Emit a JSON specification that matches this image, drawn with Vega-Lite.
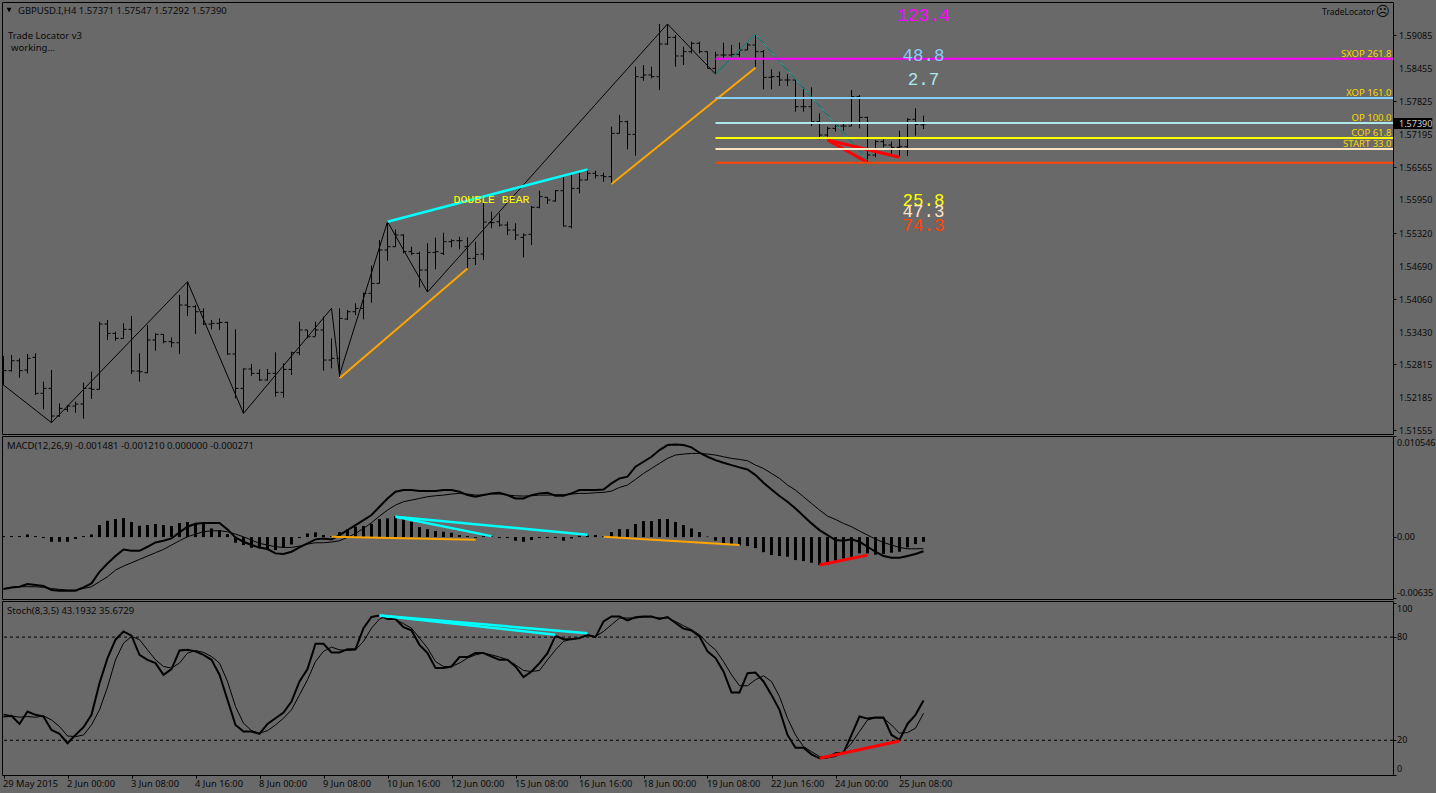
{
"$schema":"https://vega.github.io/schema/vega-lite/v6.json",
"background":"#696969",
"padding":{"left":-1,"top":1,"right":8,"bottom":5},
"spacing":2,
"bounds":"flush",
"config":{"view":{"stroke":"#000","strokeWidth":1},"axis":{"grid":false,"domain":false,"title":null,"labelFont":"Noto Sans","labelFontSize":9,"labelColor":"#0a0a0a","tickColor":"#000","tickSize":3}},
"datasets":{
"bars":[
{"bar":0,"open":1.52762,"high":1.52965,"low":1.52413,"close":1.52686,"macd":-0.00543,"signal":-0.00536,"hist":0.0001,"k":33.8,"d":35.2},
{"bar":1,"open":1.52686,"high":1.52984,"low":1.52667,"close":1.52876,"macd":-0.00525,"signal":-0.00525,"hist":0.0001,"k":34.2,"d":34.2},
{"bar":2,"open":1.52876,"high":1.52921,"low":1.52552,"close":1.52686,"macd":-0.00518,"signal":-0.00518,"hist":0.0001,"k":29.5,"d":33.4},
{"bar":3,"open":1.52698,"high":1.53004,"low":1.52635,"close":1.52921,"macd":-0.0049,"signal":-0.00518,"hist":0.00028,"k":36.7,"d":33.8},
{"bar":4,"open":1.5294,"high":1.53016,"low":1.52222,"close":1.52254,"macd":-0.00501,"signal":-0.00518,"hist":0.0001,"k":34.8,"d":33.4},
{"bar":5,"open":1.52254,"high":1.52476,"low":1.51949,"close":1.52349,"macd":-0.00511,"signal":-0.00525,"hist":-0.0001,"k":33.8,"d":34.2},
{"bar":6,"open":1.52349,"high":1.52698,"low":1.51695,"close":1.51822,"macd":-0.00553,"signal":-0.00536,"hist":-0.00049,"k":26.0,"d":31.8},
{"bar":7,"open":1.51822,"high":1.52063,"low":1.51809,"close":1.51968,"macd":-0.0056,"signal":-0.00546,"hist":-0.00049,"k":23.7,"d":28.0},
{"bar":8,"open":1.51949,"high":1.52031,"low":1.51904,"close":1.52012,"macd":-0.0056,"signal":-0.00553,"hist":-0.00049,"k":18.3,"d":22.5},
{"bar":9,"open":1.52012,"high":1.52095,"low":1.51885,"close":1.5205,"macd":-0.0056,"signal":-0.00553,"hist":-0.0002,"k":23.1,"d":22.1},
{"bar":10,"open":1.5205,"high":1.52457,"low":1.51771,"close":1.52349,"macd":-0.00525,"signal":-0.00536,"hist":0.0001,"k":27.6,"d":23.1},
{"bar":11,"open":1.52349,"high":1.52667,"low":1.52146,"close":1.5233,"macd":-0.00483,"signal":-0.00518,"hist":0.00028,"k":34.8,"d":28.9},
{"bar":12,"open":1.5233,"high":1.5362,"low":1.5233,"close":1.53575,"macd":-0.00362,"signal":-0.00466,"hist":0.00125,"k":53.2,"d":37.7},
{"bar":13,"open":1.53575,"high":1.53652,"low":1.5327,"close":1.53397,"macd":-0.00275,"signal":-0.00414,"hist":0.0017,"k":67.8,"d":50.9},
{"bar":14,"open":1.53397,"high":1.53429,"low":1.53258,"close":1.53302,"macd":-0.00198,"signal":-0.00344,"hist":0.00188,"k":78.5,"d":66.8},
{"bar":15,"open":1.53302,"high":1.53588,"low":1.53302,"close":1.53474,"macd":-0.00129,"signal":-0.00303,"hist":0.00198,"k":83.3,"d":76.5},
{"bar":16,"open":1.53474,"high":1.53728,"low":1.52622,"close":1.52679,"macd":-0.00143,"signal":-0.00268,"hist":0.00157,"k":80.8,"d":80.4},
{"bar":17,"open":1.52679,"high":1.53016,"low":1.52476,"close":1.52667,"macd":-0.00143,"signal":-0.00233,"hist":0.00118,"k":69.7,"d":78.5},
{"bar":18,"open":1.52648,"high":1.53556,"low":1.52635,"close":1.5327,"macd":-0.00101,"signal":-0.00198,"hist":0.00125,"k":66.8,"d":72.6},
{"bar":19,"open":1.5327,"high":1.53397,"low":1.53067,"close":1.53378,"macd":-0.00056,"signal":-0.00163,"hist":0.00136,"k":64.9,"d":66.8},
{"bar":20,"open":1.53378,"high":1.53385,"low":1.53207,"close":1.53239,"macd":-0.00038,"signal":-0.00129,"hist":0.00125,"k":58.1,"d":62.9},
{"bar":21,"open":1.53239,"high":1.53321,"low":1.53131,"close":1.53219,"macd":-0.00014,"signal":-0.00083,"hist":0.00115,"k":61.4,"d":62.0},
{"bar":22,"open":1.53219,"high":1.54128,"low":1.53004,"close":1.53937,"macd":0.00049,"signal":-0.00038,"hist":0.00146,"k":72.2,"d":64.9},
{"bar":23,"open":1.53937,"high":1.54382,"low":1.53728,"close":1.53906,"macd":0.00108,"signal":0.00003,"hist":0.00157,"k":72.6,"d":70.7},
{"bar":24,"open":1.53906,"high":1.53937,"low":1.53385,"close":1.5381,"macd":0.00139,"signal":0.00031,"hist":0.00136,"k":71.7,"d":72.2},
{"bar":25,"open":1.5381,"high":1.53874,"low":1.53556,"close":1.53575,"macd":0.00146,"signal":0.00056,"hist":0.00136,"k":69.7,"d":71.1},
{"bar":26,"open":1.53575,"high":1.53652,"low":1.53474,"close":1.53588,"macd":0.00146,"signal":0.00066,"hist":0.0009,"k":66.8,"d":68.7},
{"bar":27,"open":1.53588,"high":1.53683,"low":1.53461,"close":1.53607,"macd":0.00146,"signal":0.00066,"hist":0.00073,"k":58.1,"d":64.9},
{"bar":28,"open":1.53607,"high":1.5362,"low":1.52984,"close":1.53004,"macd":0.0008,"signal":0.00056,"hist":0.00031,"k":43.5,"d":54.2},
{"bar":29,"open":1.53004,"high":1.53474,"low":1.52158,"close":1.52349,"macd":-0.00003,"signal":0.00031,"hist":-0.00059,"k":28.9,"d":39.6},
{"bar":30,"open":1.52349,"high":1.5273,"low":1.51872,"close":1.52718,"macd":-0.00049,"signal":0.00003,"hist":-0.00083,"k":25.1,"d":29.9},
{"bar":31,"open":1.52718,"high":1.52813,"low":1.5259,"close":1.52635,"macd":-0.00083,"signal":-0.00031,"hist":-0.00111,"k":25.1,"d":25.6},
{"bar":32,"open":1.52635,"high":1.52711,"low":1.52495,"close":1.52508,"macd":-0.00108,"signal":-0.00066,"hist":-0.00118,"k":23.7,"d":24.1},
{"bar":33,"open":1.52508,"high":1.52718,"low":1.52495,"close":1.52635,"macd":-0.00125,"signal":-0.00083,"hist":-0.00136,"k":29.5,"d":25.6},
{"bar":34,"open":1.52635,"high":1.53035,"low":1.5219,"close":1.52273,"macd":-0.0017,"signal":-0.00101,"hist":-0.00136,"k":32.8,"d":28.9},
{"bar":35,"open":1.52273,"high":1.52826,"low":1.52171,"close":1.52711,"macd":-0.00177,"signal":-0.00108,"hist":-0.00108,"k":36.1,"d":32.8},
{"bar":36,"open":1.52711,"high":1.53048,"low":1.52603,"close":1.53029,"macd":-0.00153,"signal":-0.00108,"hist":-0.00077,"k":42.5,"d":37.7},
{"bar":37,"open":1.53029,"high":1.5362,"low":1.52984,"close":1.53461,"macd":-0.00108,"signal":-0.00094,"hist":-0.0001,"k":54.2,"d":46.4},
{"bar":38,"open":1.53461,"high":1.53461,"low":1.53302,"close":1.53334,"macd":-0.00066,"signal":-0.00073,"hist":0.00038,"k":61.4,"d":55.2},
{"bar":39,"open":1.53334,"high":1.5362,"low":1.53347,"close":1.53461,"macd":-0.00024,"signal":-0.00059,"hist":0.00049,"k":76.1,"d":65.8},
{"bar":40,"open":1.53461,"high":1.53715,"low":1.52686,"close":1.52889,"macd":-0.00014,"signal":-0.00059,"hist":0.00021,"k":76.1,"d":71.7},
{"bar":41,"open":1.52889,"high":1.53302,"low":1.5273,"close":1.52921,"macd":-0.00024,"signal":-0.00052,"hist":0.0001,"k":71.1,"d":74.2},
{"bar":42,"open":1.52921,"high":1.53874,"low":1.5254,"close":1.53683,"macd":0.00021,"signal":-0.00038,"hist":0.00052,"k":71.1,"d":72.6},
{"bar":43,"open":1.53671,"high":1.53842,"low":1.53652,"close":1.5381,"macd":0.00073,"signal":-0.00003,"hist":0.0008,"k":73.0,"d":72.2},
{"bar":44,"open":1.5381,"high":1.53969,"low":1.53747,"close":1.53874,"macd":0.00125,"signal":0.00038,"hist":0.00108,"k":73.0,"d":72.6},
{"bar":45,"open":1.53874,"high":1.54173,"low":1.53664,"close":1.5416,"macd":0.00177,"signal":0.0009,"hist":0.00115,"k":85.2,"d":77.5},
{"bar":46,"open":1.5416,"high":1.54687,"low":1.53982,"close":1.5435,"macd":0.0023,"signal":0.0015,"hist":0.00139,"k":91.7,"d":85.2},
{"bar":47,"open":1.5435,"high":1.55177,"low":1.5435,"close":1.54986,"macd":0.00316,"signal":0.00219,"hist":0.00188,"k":92.6,"d":90.5},
{"bar":48,"open":1.54986,"high":1.55526,"low":1.54783,"close":1.55049,"macd":0.00403,"signal":0.00282,"hist":0.00195,"k":90.5,"d":92.4},
{"bar":49,"open":1.55049,"high":1.5538,"low":1.55049,"close":1.55272,"macd":0.00473,"signal":0.00334,"hist":0.00219,"k":90.5,"d":90.1},
{"bar":50,"open":1.55272,"high":1.55285,"low":1.54922,"close":1.54954,"macd":0.0049,"signal":0.00369,"hist":0.00195,"k":85.8,"d":87.8},
{"bar":51,"open":1.54954,"high":1.55049,"low":1.54891,"close":1.54922,"macd":0.0049,"signal":0.00386,"hist":0.0016,"k":83.9,"d":85.2},
{"bar":52,"open":1.54922,"high":1.54954,"low":1.54274,"close":1.54605,"macd":0.0048,"signal":0.00403,"hist":0.00104,"k":75.5,"d":79.4},
{"bar":53,"open":1.54605,"high":1.55113,"low":1.54185,"close":1.54941,"macd":0.0048,"signal":0.00421,"hist":0.00083,"k":70.7,"d":73.6},
{"bar":54,"open":1.54941,"high":1.55221,"low":1.54617,"close":1.54954,"macd":0.0048,"signal":0.00431,"hist":0.00063,"k":62.0,"d":65.8},
{"bar":55,"open":1.54922,"high":1.55316,"low":1.54891,"close":1.55145,"macd":0.0049,"signal":0.00438,"hist":0.00056,"k":62.0,"d":62.9},
{"bar":56,"open":1.55145,"high":1.55189,"low":1.55037,"close":1.55164,"macd":0.0049,"signal":0.00449,"hist":0.00045,"k":62.9,"d":62.9},
{"bar":57,"open":1.55164,"high":1.5524,"low":1.54999,"close":1.55164,"macd":0.00473,"signal":0.00456,"hist":0.00021,"k":68.4,"d":64.9},
{"bar":58,"open":1.55049,"high":1.55227,"low":1.54636,"close":1.54827,"macd":0.00438,"signal":0.00449,"hist":0.0001,"k":68.4,"d":67.8},
{"bar":59,"open":1.54827,"high":1.55145,"low":1.547,"close":1.54903,"macd":0.00421,"signal":0.00438,"hist":-0.0001,"k":70.7,"d":69.7},
{"bar":60,"open":1.5491,"high":1.55882,"low":1.54796,"close":1.5552,"macd":0.00438,"signal":0.00438,"hist":0.0001,"k":70.7,"d":70.7},
{"bar":61,"open":1.55508,"high":1.55717,"low":1.554,"close":1.55508,"macd":0.00456,"signal":0.00449,"hist":0.0001,"k":68.7,"d":69.7},
{"bar":62,"open":1.55527,"high":1.55685,"low":1.55431,"close":1.55463,"macd":0.00463,"signal":0.00449,"hist":-0.0001,"k":66.8,"d":68.4},
{"bar":63,"open":1.55463,"high":1.55527,"low":1.55272,"close":1.55368,"macd":0.00438,"signal":0.00438,"hist":-0.0001,"k":66.8,"d":66.8},
{"bar":64,"open":1.55368,"high":1.55495,"low":1.55177,"close":1.55272,"macd":0.00403,"signal":0.00431,"hist":-0.00038,"k":62.9,"d":63.9},
{"bar":65,"open":1.55228,"high":1.55304,"low":1.54847,"close":1.55272,"macd":0.00403,"signal":0.00428,"hist":-0.00049,"k":56.7,"d":60.6},
{"bar":66,"open":1.55285,"high":1.55825,"low":1.55082,"close":1.558,"macd":0.00438,"signal":0.00431,"hist":-0.00031,"k":60.0,"d":60.0},
{"bar":67,"open":1.558,"high":1.56117,"low":1.55781,"close":1.56003,"macd":0.00456,"signal":0.00438,"hist":-0.0001,"k":64.9,"d":60.6},
{"bar":68,"open":1.5599,"high":1.5599,"low":1.55863,"close":1.5594,"macd":0.00463,"signal":0.00438,"hist":-0.0001,"k":70.7,"d":66.8},
{"bar":69,"open":1.55921,"high":1.5613,"low":1.55908,"close":1.56117,"macd":0.00431,"signal":0.00442,"hist":-0.0001,"k":80.8,"d":72.6},
{"bar":70,"open":1.56117,"high":1.56384,"low":1.55431,"close":1.55444,"macd":0.00431,"signal":0.00442,"hist":-0.00038,"k":78.8,"d":77.5},
{"bar":71,"open":1.55431,"high":1.56448,"low":1.554,"close":1.56162,"macd":0.00456,"signal":0.00449,"hist":-0.00014,"k":78.8,"d":78.8},
{"bar":72,"open":1.56162,"high":1.5648,"low":1.56067,"close":1.56321,"macd":0.0049,"signal":0.00456,"hist":0.00014,"k":79.4,"d":79.4},
{"bar":73,"open":1.56321,"high":1.56511,"low":1.56321,"close":1.56448,"macd":0.0049,"signal":0.00456,"hist":0.00017,"k":81.4,"d":80.8},
{"bar":74,"open":1.56448,"high":1.56499,"low":1.56353,"close":1.56403,"macd":0.0049,"signal":0.00463,"hist":0.00021,"k":80.0,"d":80.4},
{"bar":75,"open":1.56403,"high":1.56461,"low":1.56289,"close":1.56384,"macd":0.00497,"signal":0.00466,"hist":0.0001,"k":89.1,"d":83.3},
{"bar":76,"open":1.56384,"high":1.57337,"low":1.56245,"close":1.5721,"macd":0.0056,"signal":0.0048,"hist":0.00052,"k":92.0,"d":87.2},
{"bar":77,"open":1.5721,"high":1.5756,"low":1.5721,"close":1.57433,"macd":0.00612,"signal":0.00518,"hist":0.00083,"k":92.0,"d":91.1},
{"bar":78,"open":1.57433,"high":1.57452,"low":1.56905,"close":1.57191,"macd":0.0063,"signal":0.00543,"hist":0.00083,"k":89.7,"d":91.1},
{"bar":79,"open":1.57191,"high":1.58481,"low":1.56785,"close":1.58291,"macd":0.00734,"signal":0.00602,"hist":0.00136,"k":91.5,"d":91.1},
{"bar":80,"open":1.58278,"high":1.58513,"low":1.58214,"close":1.58322,"macd":0.00786,"signal":0.00664,"hist":0.00167,"k":92.0,"d":91.7},
{"bar":81,"open":1.58322,"high":1.58481,"low":1.58259,"close":1.58291,"macd":0.00838,"signal":0.00716,"hist":0.00167,"k":92.0,"d":91.7},
{"bar":82,"open":1.58291,"high":1.59295,"low":1.58036,"close":1.58913,"macd":0.00908,"signal":0.00769,"hist":0.00188,"k":90.5,"d":91.1},
{"bar":83,"open":1.58913,"high":1.59295,"low":1.58894,"close":1.5904,"macd":0.0096,"signal":0.00821,"hist":0.00188,"k":91.7,"d":91.1},
{"bar":84,"open":1.5904,"high":1.59085,"low":1.58481,"close":1.58685,"macd":0.00967,"signal":0.00856,"hist":0.00157,"k":88.2,"d":89.1},
{"bar":85,"open":1.58685,"high":1.58862,"low":1.58513,"close":1.58767,"macd":0.0096,"signal":0.00866,"hist":0.00125,"k":84.9,"d":86.6},
{"bar":86,"open":1.58767,"high":1.58958,"low":1.58735,"close":1.58926,"macd":0.00936,"signal":0.00873,"hist":0.0009,"k":83.9,"d":84.3},
{"bar":87,"open":1.58926,"high":1.58958,"low":1.58735,"close":1.58767,"macd":0.0088,"signal":0.00873,"hist":0.00052,"k":80.4,"d":81.4},
{"bar":88,"open":1.58767,"high":1.58767,"low":1.58449,"close":1.58449,"macd":0.00838,"signal":0.00866,"hist":0.00005,"k":71.7,"d":76.5},
{"bar":89,"open":1.58449,"high":1.58767,"low":1.58341,"close":1.58704,"macd":0.00803,"signal":0.00856,"hist":-0.00038,"k":67.8,"d":72.6},
{"bar":90,"open":1.58704,"high":1.58939,"low":1.58608,"close":1.58704,"macd":0.00776,"signal":0.00838,"hist":-0.00066,"k":60.0,"d":65.8},
{"bar":91,"open":1.58704,"high":1.58894,"low":1.58672,"close":1.58716,"macd":0.00751,"signal":0.00821,"hist":-0.00077,"k":47.8,"d":58.1},
{"bar":92,"open":1.58716,"high":1.58939,"low":1.58672,"close":1.58799,"macd":0.00727,"signal":0.0081,"hist":-0.00087,"k":47.8,"d":51.7},
{"bar":93,"open":1.58799,"high":1.58939,"low":1.58799,"close":1.58894,"macd":0.00706,"signal":0.00796,"hist":-0.00094,"k":59.0,"d":51.7},
{"bar":94,"open":1.58894,"high":1.59098,"low":1.58481,"close":1.58767,"macd":0.00647,"signal":0.00751,"hist":-0.00115,"k":59.4,"d":55.2},
{"bar":95,"open":1.58767,"high":1.58799,"low":1.58049,"close":1.58278,"macd":0.00567,"signal":0.00716,"hist":-0.00157,"k":54.2,"d":57.5},
{"bar":96,"open":1.58278,"high":1.5843,"low":1.58049,"close":1.58291,"macd":0.00497,"signal":0.00664,"hist":-0.00188,"k":46.4,"d":54.2},
{"bar":97,"open":1.58291,"high":1.58386,"low":1.58113,"close":1.58227,"macd":0.00428,"signal":0.00612,"hist":-0.00198,"k":37.7,"d":45.4},
{"bar":98,"open":1.58227,"high":1.58341,"low":1.58113,"close":1.58227,"macd":0.00369,"signal":0.00543,"hist":-0.00205,"k":23.1,"d":32.8},
{"bar":99,"open":1.58227,"high":1.58227,"low":1.57623,"close":1.57719,"macd":0.00299,"signal":0.0049,"hist":-0.0024,"k":15.7,"d":23.1},
{"bar":100,"open":1.57719,"high":1.58087,"low":1.57623,"close":1.57719,"macd":0.00219,"signal":0.00421,"hist":-0.0025,"k":15.7,"d":16.3},
{"bar":101,"open":1.57719,"high":1.58087,"low":1.5735,"close":1.57433,"macd":0.00143,"signal":0.00351,"hist":-0.00268,"k":11.8,"d":13.4},
{"bar":102,"open":1.57433,"high":1.57592,"low":1.57096,"close":1.57179,"macd":0.00073,"signal":0.00282,"hist":-0.00292,"k":9.5,"d":10.5},
{"bar":103,"open":1.57179,"high":1.57337,"low":1.57147,"close":1.57306,"macd":0.00021,"signal":0.00219,"hist":-0.00292,"k":9.9,"d":9.9},
{"bar":104,"open":1.57306,"high":1.57433,"low":1.57242,"close":1.5735,"macd":-0.00031,"signal":0.00184,"hist":-0.00268,"k":12.4,"d":10.5},
{"bar":105,"open":1.5735,"high":1.57433,"low":1.57261,"close":1.5735,"macd":-0.00038,"signal":0.00143,"hist":-0.00223,"k":12.8,"d":13.4},
{"bar":106,"open":1.5735,"high":1.58036,"low":1.5735,"close":1.57909,"macd":-0.00024,"signal":0.00108,"hist":-0.00205,"k":23.1,"d":18.3},
{"bar":107,"open":1.57909,"high":1.57941,"low":1.57306,"close":1.57515,"macd":-0.00049,"signal":0.00063,"hist":-0.0017,"k":33.8,"d":25.1},
{"bar":108,"open":1.57515,"high":1.57528,"low":1.5667,"close":1.56797,"macd":-0.00101,"signal":0.00021,"hist":-0.0017,"k":32.6,"d":31.8},
{"bar":109,"open":1.56797,"high":1.57083,"low":1.56753,"close":1.57052,"macd":-0.00153,"signal":-0.00021,"hist":-0.00184,"k":33.2,"d":33.0},
{"bar":110,"open":1.57052,"high":1.57096,"low":1.56944,"close":1.56988,"macd":-0.00198,"signal":-0.00056,"hist":-0.00177,"k":33.2,"d":32.8},
{"bar":111,"open":1.56988,"high":1.57052,"low":1.56766,"close":1.56944,"macd":-0.00216,"signal":-0.00083,"hist":-0.00163,"k":23.1,"d":28.9},
{"bar":112,"open":1.56944,"high":1.57261,"low":1.56766,"close":1.56956,"macd":-0.00216,"signal":-0.00108,"hist":-0.00153,"k":20.2,"d":24.1},
{"bar":113,"open":1.56956,"high":1.57496,"low":1.56778,"close":1.57477,"macd":-0.00198,"signal":-0.00122,"hist":-0.00108,"k":29.5,"d":24.5},
{"bar":114,"open":1.57477,"high":1.57687,"low":1.57166,"close":1.57382,"macd":-0.00177,"signal":-0.00122,"hist":-0.00073,"k":34.8,"d":27.0},
{"bar":115,"open":1.57371,"high":1.57547,"low":1.57292,"close":1.5739,"macd":-0.00148,"signal":-0.00121,"hist":-0.00049,"k":43.19,"d":35.67}
],
"zigzag":[
{"bar":0,"price":1.52413},{"bar":6,"price":1.51695},{"bar":23,"price":1.54382},{"bar":30,"price":1.51872},{"bar":41,"price":1.53874},{"bar":42,"price":1.52603},{"bar":48,"price":1.55526},{"bar":53,"price":1.54185},{"bar":83,"price":1.59295},{"bar":89,"price":1.58341},{"bar":94,"price":1.59098},{"bar":108,"price":1.56702}
],
"pattern":[
{"bar":89,"price":1.58341},{"bar":94,"price":1.59098},{"bar":108,"price":1.56702}
],
"priceTrends":[
{"trend":"a","kind":"orange","bar":42,"value":1.5254},{"trend":"a","kind":"orange","bar":58,"value":1.54636},
{"trend":"b","kind":"orange","bar":76,"value":1.56245},{"trend":"b","kind":"orange","bar":94,"value":1.58462},
{"trend":"c","kind":"cyan","bar":48,"value":1.55526},{"trend":"c","kind":"cyan","bar":73,"value":1.56524},
{"trend":"d","kind":"red","bar":103,"value":1.57083},{"trend":"d","kind":"red","bar":108,"value":1.56658},
{"trend":"e","kind":"red","bar":103,"value":1.57083},{"trend":"e","kind":"red","bar":112,"value":1.56753}
],
"macdTrends":[
{"trend":"a","kind":"cyan","bar":49,"value":0.00212},{"trend":"a","kind":"cyan","bar":73,"value":0.00024},
{"trend":"b","kind":"cyan","bar":49,"value":0.00212},{"trend":"b","kind":"cyan","bar":61,"value":0.0001},
{"trend":"c","kind":"orange","bar":41,"value":0.00003},{"trend":"c","kind":"orange","bar":59,"value":-0.00028},
{"trend":"d","kind":"orange","bar":75,"value":0.00003},{"trend":"d","kind":"orange","bar":92,"value":-0.00083},
{"trend":"e","kind":"red","bar":102,"value":-0.00292},{"trend":"e","kind":"red","bar":108,"value":-0.00188}
],
"stochTrends":[
{"trend":"a","kind":"cyan","bar":47,"value":92.6},{"trend":"a","kind":"cyan","bar":73,"value":82.3},
{"trend":"b","kind":"cyan","bar":47,"value":92.6},{"trend":"b","kind":"cyan","bar":69,"value":81.4},
{"trend":"c","kind":"red","bar":102,"value":9.5},{"trend":"c","kind":"red","bar":112,"value":19.6}
],
"levels":[
{"level":"SXOP","label":"SXOP 261.8","price":1.58634,"from":89,"to":173.6875,"labelAt":173.5},
{"level":"XOP","label":"XOP 161.0","price":1.57884,"from":89,"to":173.6875,"labelAt":173.5},
{"level":"OP","label":"OP 100.0","price":1.57407,"from":89,"to":173.6875,"labelAt":173.5},
{"level":"COP","label":"COP 61.8","price":1.57121,"from":89,"to":173.6875,"labelAt":173.5},
{"level":"START","label":"START 33.0","price":1.56912,"from":89,"to":173.6875,"labelAt":173.5},
{"level":"STOP","label":"","price":1.56651,"from":89,"to":173.6875,"labelAt":173.5}
],
"scores":[
{"level":"SXOP","score":"123.4","bar":115,"price":1.59466},
{"level":"XOP","score":"48.8","bar":115,"price":1.58704},
{"level":"OP","score":"2.7","bar":115,"price":1.58246},
{"level":"COP","score":"25.8","bar":115,"price":1.55939},
{"level":"START","score":"47.3","bar":115,"price":1.5573},
{"level":"STOP","score":"74.3","bar":115,"price":1.55463}
],
"notes":[
{"bar":1.81,"price":1.59561,"note":"GBPUSD.I,H4  1.57371 1.57547 1.57292 1.57390"},
{"bar":0.56,"price":1.59085,"note":"Trade Locator v3"},
{"bar":0.94,"price":1.58856,"note":"working..."}
],
"priceTicks":[
{"bar":174.44,"price":1.59085},{"bar":174.44,"price":1.58455},{"bar":174.44,"price":1.57825},{"bar":174.44,"price":1.56565},{"bar":174.44,"price":1.5595},{"bar":174.44,"price":1.5532},{"bar":174.44,"price":1.5469},{"bar":174.44,"price":1.5406},{"bar":174.44,"price":1.5343},{"bar":174.44,"price":1.52815},{"bar":174.44,"price":1.52185},{"bar":174.44,"price":1.51555}
]
},
"vconcat":[
{
"width":1391,"height":432,
"resolve":{"scale":{"color":"independent"}},
"layer":[
{"data":{"name":"bars"},"mark":{"type":"rule","color":"#000","strokeWidth":1},
 "encoding":{"x":{"field":"bar","type":"quantitative","scale":{"domain":[-0.1875,173.6875],"nice":false,"zero":false},"axis":null},
 "y":{"field":"low","type":"quantitative","scale":{"domain":[1.51479,1.59714],"nice":false,"zero":false},
  "axis":{"orient":"right","values":[1.59085,1.58455,1.57825,1.57195,1.56565,1.5595,1.5532,1.5469,1.5406,1.5343,1.52815,1.52185,1.51555],"labels":false}},
 "y2":{"field":"high"}}},
{"data":{"name":"bars"},"transform":[{"filter":"datum.bar>0"}],"mark":{"type":"tick","orient":"horizontal","size":3,"thickness":1,"xOffset":-1.5,"color":"#000","opacity":1},
 "encoding":{"x":{"field":"bar","type":"quantitative"},"y":{"field":"open","type":"quantitative"}}},
{"data":{"name":"bars"},"mark":{"type":"tick","orient":"horizontal","size":3,"thickness":1,"xOffset":1.5,"color":"#000","opacity":1},
 "encoding":{"x":{"field":"bar","type":"quantitative"},"y":{"field":"close","type":"quantitative"}}},
{"data":{"name":"zigzag"},"mark":{"type":"line","color":"#000","strokeWidth":1},
 "encoding":{"x":{"field":"bar","type":"quantitative"},"y":{"field":"price","type":"quantitative"}}},
{"data":{"name":"pattern"},"mark":{"type":"line","color":"#20b2aa","strokeWidth":1},
 "encoding":{"x":{"field":"bar","type":"quantitative"},"y":{"field":"price","type":"quantitative"}}},
{"data":{"name":"priceTrends"},"mark":{"type":"line"},
 "encoding":{"x":{"field":"bar","type":"quantitative"},"y":{"field":"value","type":"quantitative"},"detail":{"field":"trend"},
 "color":{"field":"kind","scale":{"domain":["orange","cyan","red"],"range":["#ffa500","#00ffff","#ff0000"]},"legend":null},
 "size":{"field":"kind","type":"ordinal","scale":{"domain":["orange","cyan","red"],"range":[2,3,3]},"legend":null}}},
{"data":{"name":"levels"},"mark":{"type":"rule","strokeWidth":2},
 "encoding":{"x":{"field":"from","type":"quantitative"},"x2":{"field":"to"},"y":{"field":"price","type":"quantitative"},
 "color":{"field":"level","scale":{"domain":["SXOP","XOP","OP","COP","START","STOP"],"range":["#ff00ff","#87cefa","#afe8ea","#ffff00","#ffe4c4","#ff4500"]},"legend":null}}},
{"data":{"name":"levels"},"mark":{"type":"text","align":"right","baseline":"bottom","font":"Noto Sans","fontSize":9.5,"color":"#ffd700"},
 "encoding":{"x":{"field":"labelAt","type":"quantitative"},"y":{"field":"price","type":"quantitative"},"text":{"field":"label"}}},
{"data":{"name":"scores"},"mark":{"type":"text","align":"center","baseline":"middle","dy":1,"font":"Liberation Mono","fontSize":17.5},
 "encoding":{"x":{"field":"bar","type":"quantitative"},"y":{"field":"price","type":"quantitative"},"text":{"field":"score"},
 "color":{"field":"level","scale":{"domain":["SXOP","XOP","OP","COP","START","STOP"],"range":["#ff00ff","#87cefa","#afe8ea","#ffff00","#ffe4c4","#ff4500"]},"legend":null}}},
{"data":{"values":[{"bar":61,"price":1.55939,"note":"DOUBLE BEAR"}]},"mark":{"type":"text","align":"center","baseline":"middle","font":"Liberation Mono","fontSize":11.5,"color":"#ffff00"},
 "encoding":{"x":{"field":"bar","type":"quantitative"},"y":{"field":"price","type":"quantitative"},"text":{"field":"note"}}},
{"data":{"name":"notes"},"mark":{"type":"text","align":"left","baseline":"middle","dy":1,"font":"Noto Sans","fontSize":9.5,"color":"#0a0a0a"},
 "encoding":{"x":{"field":"bar","type":"quantitative"},"y":{"field":"price","type":"quantitative"},"text":{"field":"note"}}},
{"data":{"values":[{"bar":0.7,"price":1.59561}]},"mark":{"type":"point","shape":"triangle-down","filled":true,"size":25,"color":"#000","opacity":1},
 "encoding":{"x":{"field":"bar","type":"quantitative"},"y":{"field":"price","type":"quantitative"}}},
{"data":{"values":[{"bar":171.4,"price":1.59542,"note":"TradeLocator"}]},"mark":{"type":"text","align":"right","baseline":"middle","dy":1,"font":"Noto Sans","fontSize":8.5,"color":"#0a0a0a"},
 "encoding":{"x":{"field":"bar","type":"quantitative"},"y":{"field":"price","type":"quantitative"},"text":{"field":"note"}}},
{"data":{"values":[{"bar":172.4,"price":1.59542,"note":"☹"}]},"mark":{"type":"text","align":"center","baseline":"middle","dy":1,"font":"DejaVu Sans","fontSize":14,"color":"#0a0a0a"},
 "encoding":{"x":{"field":"bar","type":"quantitative"},"y":{"field":"price","type":"quantitative"},"text":{"field":"note"}}},
{"data":{"name":"priceTicks"},"mark":{"type":"text","align":"left","baseline":"middle","dy":1,"font":"Noto Sans","fontSize":9,"color":"#0a0a0a"},
 "encoding":{"x":{"field":"bar","type":"quantitative"},"y":{"field":"price","type":"quantitative"},"text":{"field":"price","type":"quantitative","format":".5f"}}},
{"data":{"values":[{"bar":174.44,"price":1.57195,"note":"1.57195"}]},"mark":{"type":"text","align":"left","baseline":"middle","dy":1,"font":"Noto Sans","fontSize":9,"color":"#0a0a0a"},
 "encoding":{"x":{"field":"bar","type":"quantitative"},"y":{"field":"price","type":"quantitative"},"text":{"field":"note"}}},
{"data":{"values":[{"from":173.8,"to":178.6,"low":1.57295,"high":1.57505}]},"mark":{"type":"rect","color":"#000","opacity":1},
 "encoding":{"x":{"field":"from","type":"quantitative"},"x2":{"field":"to"},"y":{"field":"low","type":"quantitative"},"y2":{"field":"high"}}},
{"data":{"values":[{"bar":174.44,"price":1.5739,"note":"1.57390"}]},"mark":{"type":"text","align":"left","baseline":"middle","font":"Noto Sans","fontSize":9,"color":"#d0d0d0"},
 "encoding":{"x":{"field":"bar","type":"quantitative"},"y":{"field":"price","type":"quantitative"},"text":{"field":"note"}}}
]
},
{
"width":1391,"height":163,
"layer":[
{"data":{"name":"bars"},"mark":{"type":"rule","color":"#000","strokeWidth":3},
 "encoding":{"x":{"field":"bar","type":"quantitative","scale":{"domain":[-0.1875,173.6875],"nice":false,"zero":false},"axis":null},
 "y":{"field":"hist","type":"quantitative","scale":{"domain":[-0.00646,0.010546],"nice":false,"zero":false},
  "axis":{"orient":"right","values":[0.010546,0,-0.00635],"labels":false}},
 "y2":{"datum":0}}},
{"data":{"name":"bars"},"mark":{"type":"line","color":"#000","strokeWidth":2},
 "encoding":{"x":{"field":"bar","type":"quantitative"},"y":{"field":"macd","type":"quantitative"}}},
{"data":{"name":"bars"},"mark":{"type":"line","color":"#000","strokeWidth":1},
 "encoding":{"x":{"field":"bar","type":"quantitative"},"y":{"field":"signal","type":"quantitative"}}},
{"data":{"name":"macdTrends"},"mark":{"type":"line"},
 "encoding":{"x":{"field":"bar","type":"quantitative"},"y":{"field":"value","type":"quantitative"},"detail":{"field":"trend"},
 "color":{"field":"kind","scale":{"domain":["orange","cyan","red"],"range":["#ffa500","#00ffff","#ff0000"]},"legend":null},
 "size":{"field":"kind","type":"ordinal","scale":{"domain":["orange","cyan","red"],"range":[2,2,3]},"legend":null}}},
{"data":{"values":[{"bar":0.44,"value":0.0096,"note":"MACD(12,26,9) -0.001481 -0.001210 0.000000 -0.000271"}]},"mark":{"type":"text","align":"left","baseline":"middle","dy":1,"font":"Noto Sans","fontSize":9.5,"color":"#0a0a0a"},
 "encoding":{"x":{"field":"bar","type":"quantitative"},"y":{"field":"value","type":"quantitative"},"text":{"field":"note"}}},
{"data":{"values":[{"bar":174.19,"value":0.010546,"note":"0.010546"}]},"mark":{"type":"text","align":"left","baseline":"middle","dy":7,"font":"Noto Sans","fontSize":9,"color":"#0a0a0a"},
 "encoding":{"x":{"field":"bar","type":"quantitative"},"y":{"field":"value","type":"quantitative"},"text":{"field":"note"}}},
{"data":{"values":[{"bar":174.19,"value":0,"note":"0.00"}]},"mark":{"type":"text","align":"left","baseline":"middle","font":"Noto Sans","fontSize":9,"color":"#0a0a0a"},
 "encoding":{"x":{"field":"bar","type":"quantitative"},"y":{"field":"value","type":"quantitative"},"text":{"field":"note"}}},
{"data":{"values":[{"bar":174.19,"value":-0.00635,"note":"-0.00635"}]},"mark":{"type":"text","align":"left","baseline":"middle","dy":-5,"font":"Noto Sans","fontSize":9,"color":"#0a0a0a"},
 "encoding":{"x":{"field":"bar","type":"quantitative"},"y":{"field":"value","type":"quantitative"},"text":{"field":"note"}}}
]
},
{
"width":1391,"height":174,
"layer":[
{"data":{"values":[{"line":20},{"line":80}]},"mark":{"type":"rule","color":"#000","strokeWidth":1,"strokeDash":[3,3]},
 "encoding":{"y":{"field":"line","type":"quantitative","scale":{"domain":[-0.2,101],"nice":false,"zero":false},
  "axis":{"orient":"right","values":[100,80,20,0],"labels":false}}}},
{"data":{"name":"bars"},"mark":{"type":"line","color":"#000","strokeWidth":2},
 "encoding":{"x":{"field":"bar","type":"quantitative","scale":{"domain":[-0.1875,173.6875],"nice":false,"zero":false},
  "axis":{"orient":"bottom","values":[0,8,16,24,32,40,48,56,64,72,80,88,96,104,112],"labelFontSize":9.3,"labelAlign":"left","labelOffset":-1,"labelPadding":1,"labelBound":false,"labelFlush":false,"labelOverlap":false,
  "labelExpr":"['29 May 2015','2 Jun 00:00','3 Jun 08:00','4 Jun 16:00','8 Jun 00:00','9 Jun 08:00','10 Jun 16:00','12 Jun 00:00','15 Jun 08:00','16 Jun 16:00','18 Jun 00:00','19 Jun 08:00','22 Jun 16:00','24 Jun 00:00','25 Jun 08:00'][datum.value/8]"}},
  "y":{"field":"k","type":"quantitative"}}},
{"data":{"name":"bars"},"mark":{"type":"line","color":"#000","strokeWidth":1},
 "encoding":{"x":{"field":"bar","type":"quantitative"},"y":{"field":"d","type":"quantitative"}}},
{"data":{"name":"stochTrends"},"mark":{"type":"line"},
 "encoding":{"x":{"field":"bar","type":"quantitative"},"y":{"field":"value","type":"quantitative"},"detail":{"field":"trend"},
 "color":{"field":"kind","scale":{"domain":["cyan","red"],"range":["#00ffff","#ff0000"]},"legend":null},
 "size":{"field":"kind","type":"ordinal","scale":{"domain":["cyan","red"],"range":[2,3]},"legend":null}}},
{"data":{"values":[{"bar":0.44,"value":95.6,"note":"Stoch(8,3,5) 43.1932 35.6729"}]},"mark":{"type":"text","align":"left","baseline":"middle","dy":1,"font":"Noto Sans","fontSize":9.5,"color":"#0a0a0a"},
 "encoding":{"x":{"field":"bar","type":"quantitative"},"y":{"field":"value","type":"quantitative"},"text":{"field":"note"}}},
{"data":{"values":[{"bar":174.19,"value":100}]},"mark":{"type":"text","align":"left","baseline":"middle","dy":6,"font":"Noto Sans","fontSize":9,"color":"#0a0a0a"},
 "encoding":{"x":{"field":"bar","type":"quantitative"},"y":{"field":"value","type":"quantitative"},"text":{"field":"value","type":"quantitative"}}},
{"data":{"values":[{"bar":174.19,"value":80},{"bar":174.19,"value":20}]},"mark":{"type":"text","align":"left","baseline":"middle","font":"Noto Sans","fontSize":9,"color":"#0a0a0a"},
 "encoding":{"x":{"field":"bar","type":"quantitative"},"y":{"field":"value","type":"quantitative"},"text":{"field":"value","type":"quantitative"}}},
{"data":{"values":[{"bar":174.19,"value":0}]},"mark":{"type":"text","align":"left","baseline":"middle","dy":-6,"font":"Noto Sans","fontSize":9,"color":"#0a0a0a"},
 "encoding":{"x":{"field":"bar","type":"quantitative"},"y":{"field":"value","type":"quantitative"},"text":{"field":"value","type":"quantitative"}}}
]
}
]
}
